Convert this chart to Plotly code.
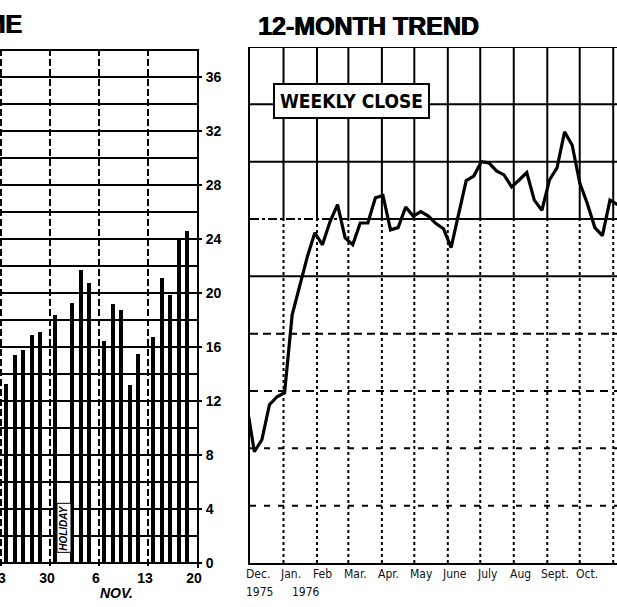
import datetime as dt
import plotly.graph_objects as go

# ---------------- data ----------------
# Left panel: daily volume (millions of shares)
vol_dates = ["1976-10-25", "1976-10-26", "1976-10-27", "1976-10-28", "1976-10-29",
             "1976-11-01", "1976-11-03", "1976-11-04", "1976-11-05",
             "1976-11-08", "1976-11-09", "1976-11-10", "1976-11-11", "1976-11-12",
             "1976-11-15", "1976-11-16", "1976-11-17", "1976-11-18", "1976-11-19"]
vol_values = [13.3, 15.4, 15.8, 16.9, 17.1,
              18.4, 19.3, 21.7, 20.8,
              16.5, 19.2, 18.8, 13.2, 15.5,
              16.8, 21.1, 19.9, 24.1, 24.6]
holiday_date = "1976-11-02"
week_labels = ["23", "30", "6", "13", "20"]
vol_ticks = [0, 4, 8, 12, 16, 20, 24, 28, 32, 36]

# Right panel: 12-month trend, weekly close (chart grid units)
trend_dates = ["1975-11-28", "1975-12-05", "1975-12-12", "1975-12-19", "1975-12-26",
               "1976-01-02", "1976-01-09", "1976-01-16", "1976-01-23", "1976-01-30",
               "1976-02-06", "1976-02-13", "1976-02-20", "1976-02-27",
               "1976-03-05", "1976-03-12", "1976-03-19", "1976-03-26",
               "1976-04-02", "1976-04-09", "1976-04-16", "1976-04-23", "1976-04-30",
               "1976-05-07", "1976-05-14", "1976-05-21", "1976-05-28",
               "1976-06-04", "1976-06-11", "1976-06-18", "1976-06-25",
               "1976-07-02", "1976-07-09", "1976-07-16", "1976-07-23", "1976-07-30",
               "1976-08-06", "1976-08-13", "1976-08-20", "1976-08-27",
               "1976-09-03", "1976-09-10", "1976-09-17", "1976-09-24",
               "1976-10-01", "1976-10-08", "1976-10-15", "1976-10-22", "1976-10-29",
               "1976-11-05"]
trend_values = [2.76, 1.94, 2.15, 2.76, 2.90,
                2.97, 4.33, 4.82, 5.34, 5.76,
                5.55, 5.95, 6.25, 5.67,
                5.55, 5.93, 5.93, 6.37,
                6.41, 5.81, 5.85, 6.21, 6.05,
                6.13, 6.05, 5.92, 5.83,
                5.50, 6.09, 6.67, 6.75,
                7.00, 6.98, 6.84, 6.77, 6.56,
                6.68, 6.81, 6.33, 6.15,
                6.68, 6.89, 7.52, 7.29,
                6.63, 6.27, 5.85, 5.71, 6.33,
                6.25]
month_labels = ["Dec.", "Jan.", "Feb", "Mar.", "Apr.", "May", "June", "July",
                "Aug", "Sept.", "Oct.", "Nov."]
month_label_pos = ["1975-12-08", "1976-01-07", "1976-02-06", "1976-03-08", "1976-04-07",
                   "1976-05-08", "1976-06-07", "1976-07-08", "1976-08-07", "1976-09-08",
                   "1976-10-08", "1976-11-08"]
year_labels = ["1975", "1976"]
year_label_pos = ["1975-12-10", "1976-01-22"]
month_starts = ["1976-%02d-01" % m for m in range(1, 12)]

# ---------------- layout helpers ----------------
W, H = 617, 607
def px_x(p):
    return p / W
def px_y(p):
    return (H - p) / H

BOLD = "Liberation Sans, Arial, sans-serif"
NARROW = "Liberation Sans Narrow, DejaVu Sans Condensed, Liberation Sans, sans-serif"
HEAVY = "0.7px 0 0 black, -0.3px 0 0 black"

base = dt.date(1976, 10, 25)
WEEK = 5.75
def slot(d):
    n = (dt.date.fromisoformat(d) - base).days
    return WEEK * (n // 7) + (n % 7) + 0.6

fig = go.Figure()

fig.add_trace(go.Bar(
    x=[slot(d) for d in vol_dates], y=vol_values, width=0.45,
    marker=dict(color="black", line=dict(width=0)),
    xaxis="x", yaxis="y", showlegend=False, hoverinfo="skip"))

fig.add_trace(go.Scatter(
    x=trend_dates, y=trend_values, mode="lines",
    line=dict(color="black", width=3.2),
    xaxis="x2", yaxis="y2", showlegend=False, hoverinfo="skip"))

shapes = []
for m in month_starts:
    shapes.append(dict(type="line", xref="x2", yref="y2", x0=m, x1=m, y0=6, y1=9,
                       line=dict(color="black", width=2)))
    shapes.append(dict(type="line", xref="x2", yref="y2", x0=m, x1=m, y0=0, y1=6,
                       line=dict(color="black", width=2, dash="dot")))
for lvl, dash in [(9, "solid"), (8, "solid"), (7, "solid"), (5, "solid"),
                  (4, "8px,5px"), (3, "8px,6px"), (2, "6px,8px"), (1, "6px,8px")]:
    shapes.append(dict(type="line", xref="paper", yref="y2",
                       x0=px_x(250), x1=1, y0=lvl, y1=lvl,
                       line=dict(color="black", width=2, dash=dash)))
shapes.append(dict(type="line", xref="paper", yref="y2", x0=px_x(250), x1=px_x(350),
                   y0=6, y1=6, line=dict(color="black", width=2, dash="dashdot")))
shapes.append(dict(type="line", xref="paper", yref="y2", x0=px_x(350), x1=1,
                   y0=6, y1=6, line=dict(color="black", width=2)))

annotations = []
annotations.append(dict(text="<b>12-MONTH TREND</b>", xref="paper", yref="paper",
                        x=px_x(256), y=px_y(26), xanchor="left", yanchor="middle",
                        showarrow=False,
                        font=dict(family=BOLD, size=25, color="black", shadow=HEAVY)))
annotations.append(dict(text="<b>VOLUME</b>", xref="paper", yref="paper",
                        x=px_x(24), y=px_y(24), xanchor="right", yanchor="middle",
                        showarrow=False,
                        font=dict(family=BOLD, size=25, color="black", shadow=HEAVY)))
annotations.append(dict(text="<b>WEEKLY CLOSE</b>", xref="paper", yref="paper",
                        x=px_x(351), y=px_y(101), xanchor="center", yanchor="middle",
                        showarrow=False, bgcolor="white", bordercolor="black",
                        borderwidth=2, borderpad=5,
                        font=dict(family=NARROW, size=19, color="black")))
annotations.append(dict(text="<i><b>NOV.</b></i>", xref="paper", yref="paper",
                        x=px_x(116), y=px_y(593), xanchor="center", yanchor="middle",
                        showarrow=False, font=dict(family=BOLD, size=14, color="black")))
annotations.append(dict(text="<i><b>HOLIDAY</b></i>", xref="x", yref="y",
                        x=slot(holiday_date), y=2.6, textangle=-90,
                        xanchor="center", yanchor="middle", showarrow=False,
                        bgcolor="white", bordercolor="black", borderwidth=1, borderpad=1,
                        font=dict(family=BOLD, size=10, color="black")))
for lab, pos in zip(month_labels, month_label_pos):
    annotations.append(dict(text=lab, xref="x2", yref="paper", x=pos, y=px_y(574),
                            xanchor="center", yanchor="middle", showarrow=False,
                            font=dict(family=NARROW, size=12, color="#111")))
for lab, pos in zip(year_labels, year_label_pos):
    annotations.append(dict(text=lab, xref="x2", yref="paper", x=pos, y=px_y(592),
                            xanchor="center", yanchor="middle", showarrow=False,
                            font=dict(family=NARROW, size=12, color="#111")))

fig.update_layout(
    template="none",
    width=W, height=H, margin=dict(l=0, r=0, t=0, b=0, pad=0, autoexpand=False),
    paper_bgcolor="white", plot_bgcolor="white",
    font=dict(family=BOLD, color="black"),
    bargap=0, showlegend=False, hovermode=False,
    xaxis=dict(domain=[0, px_x(197)], range=[-0.12, 23.0], automargin=False,
               tickmode="array", tickvals=[0, WEEK, 2 * WEEK, 3 * WEEK, 4 * WEEK],
               ticktext=week_labels, ticklabelshift=-3, ticklabeloverflow="allow",
               showgrid=True, gridcolor="black", gridwidth=2, griddash="7px,3px",
               zeroline=False, showline=False, ticks="",
               tickfont=dict(family=BOLD, size=14, color="black", weight="bold"),
               anchor="y"),
    yaxis=dict(domain=[px_y(568), px_y(49)], range=[-0.35, 38.1], side="right",
               automargin=False,
               tickmode="array", tickvals=vol_ticks,
               showgrid=True, gridcolor="black", gridwidth=2,
               minor=dict(tickmode="linear", tick0=0, dtick=2, showgrid=True,
                          gridcolor="black", gridwidth=2, ticks=""),
               zeroline=False, showline=True, linecolor="black", linewidth=2,
               ticks="outside", ticklen=3, tickcolor="black", tickwidth=2,
               ticklabelstandoff=1,
               tickfont=dict(family=BOLD, size=14, color="black", weight="bold"),
               anchor="x"),
    xaxis2=dict(domain=[px_x(250), 1], type="date", automargin=False,
                range=["1975-12-01", "1976-11-04 12:00"],
                showgrid=False, zeroline=False, showticklabels=False, ticks="",
                showline=True, linecolor="black", linewidth=2, anchor="y2"),
    yaxis2=dict(domain=[px_y(563), px_y(47)], range=[0, 9], automargin=False,
                showgrid=False, zeroline=False, showticklabels=False, ticks="",
                showline=True, linecolor="black", linewidth=2, anchor="x2"),
    shapes=shapes, annotations=annotations,
)

fig.write_html("out.html", config={"displayModeBar": False, "staticPlot": True},
               post_script="document.body.style.margin='0';document.body.style.overflow='hidden';")
